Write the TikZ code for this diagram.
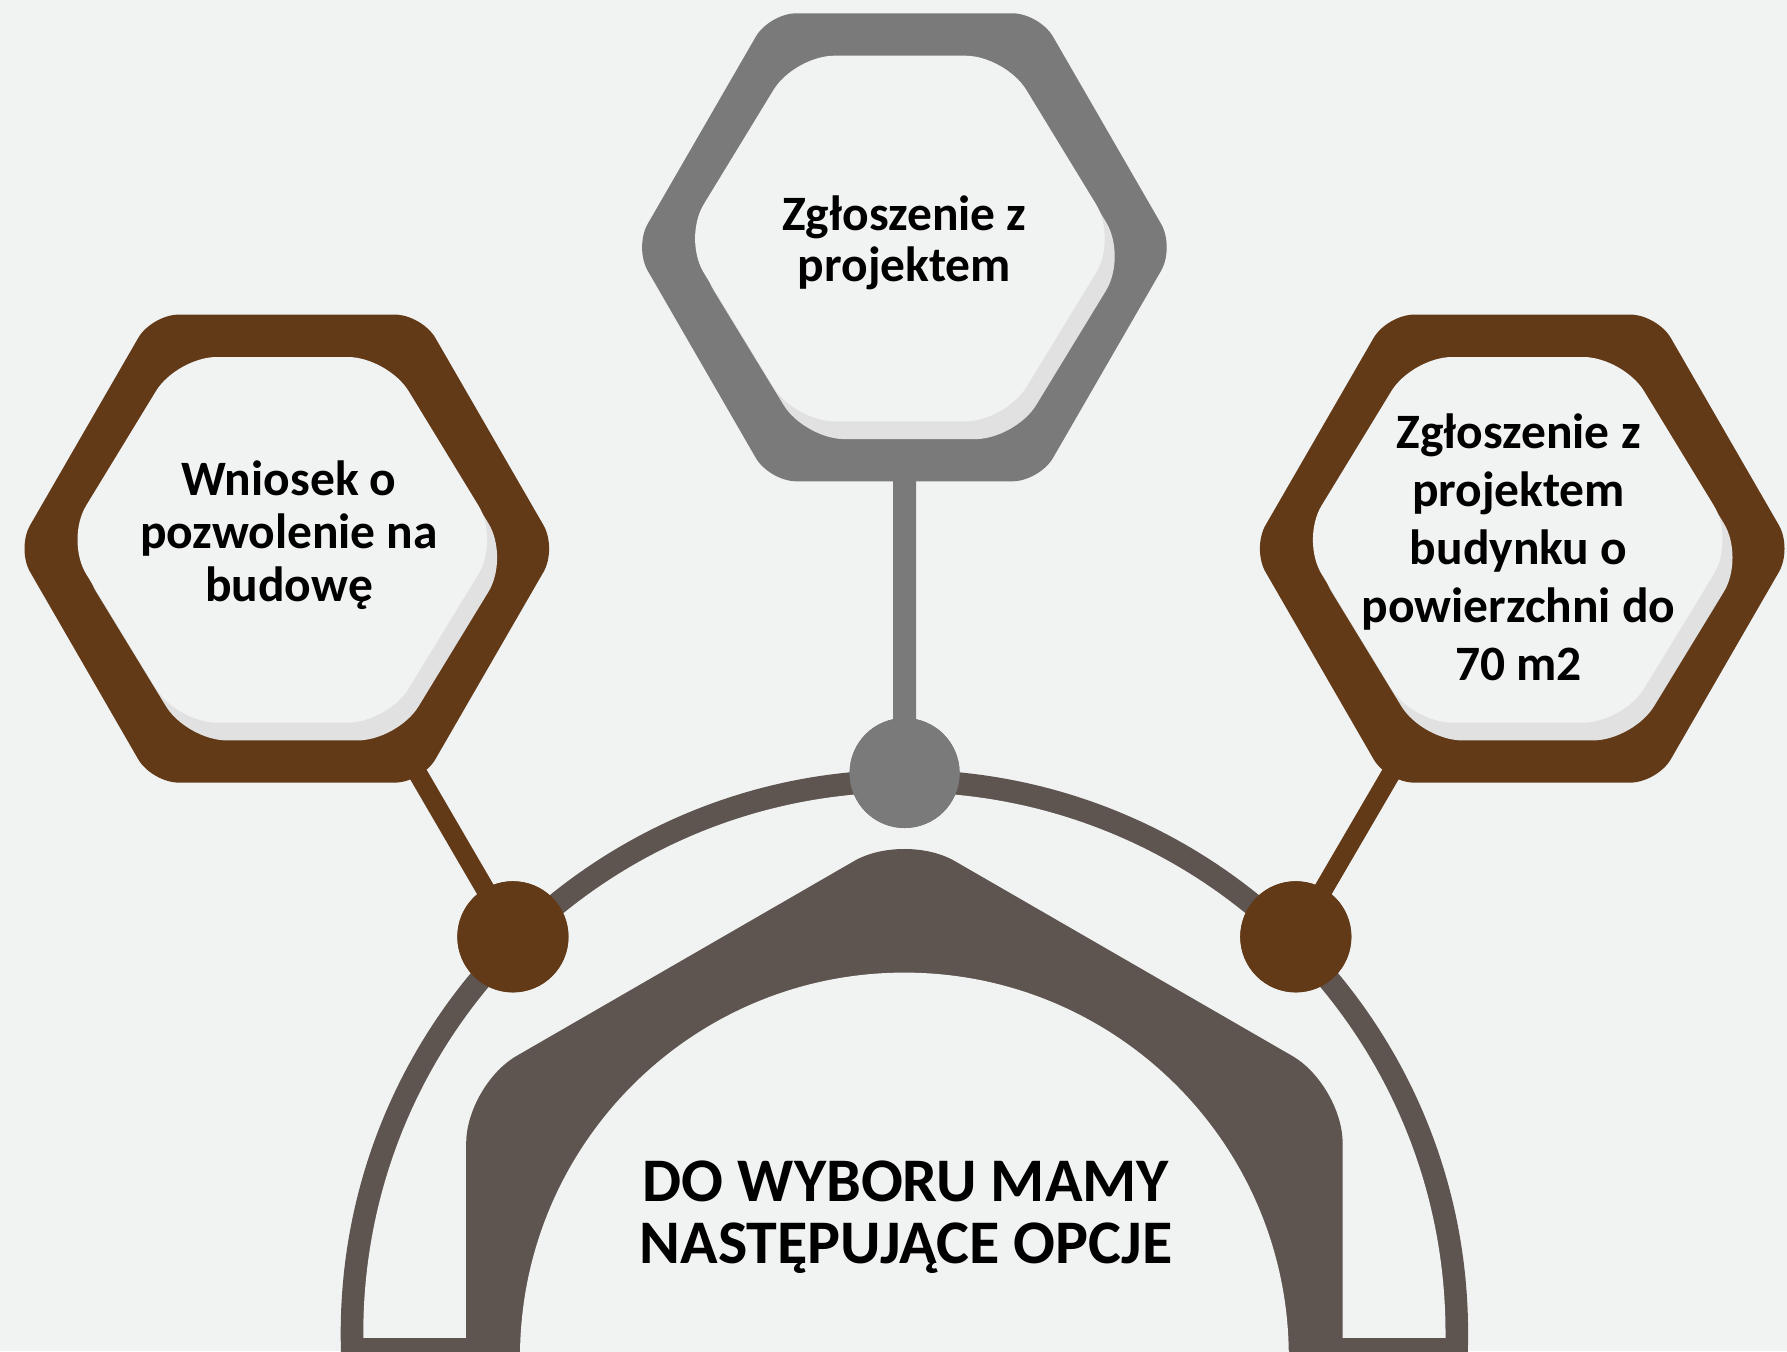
\documentclass[tikz,border=0pt]{standalone}
\usepackage{fontspec}
\setmainfont{Carlito}
\definecolor{bg}{RGB}{241,242,242}
\definecolor{hexgray}{RGB}{122,122,122}
\definecolor{hexbrown}{RGB}{98,58,23}
\definecolor{archdark}{RGB}{94,85,81}
\definecolor{shadowgray}{RGB}{225,225,225}
% flat-top hexagon: #1 options, #2 cx, #3 cy, #4 side half-width, #5 top half-width, #6 half-height
\newcommand\flathex[6]{%
  \fill[#1] (#2+#4,#3) -- (#2+#5,#3-#6) -- (#2-#5,#3-#6)
    -- (#2-#4,#3) -- (#2-#5,#3+#6) -- (#2+#5,#3+#6) -- cycle;}
% full hexagon badge: #1 ring colour, #2 cx, #3 cy
\newcommand\badge[3]{%
  \flathex{#1,rounded corners=27pt}{#2}{#3}{270.2}{135.1}{234}
  \flathex{shadowgray,rounded corners=40pt}{#2+5.5}{#3+9}{217}{105.5}{182.8}
  \flathex{bg,rounded corners=40pt}{#2-4.5}{#3-8.8}{217}{105.5}{182.8}}
\begin{document}
\begin{tikzpicture}[x=1pt,y=-1pt,
  txt/.style={align=center,inner sep=0pt,text=black},
  dot/.style={circle,inner sep=0pt,minimum size=#1},
  stem/.style={line width=23pt,draw=hexgray},
  brownlink/.style={line width=19pt,draw=hexbrown}]
\useasboundingbox (0,0) rectangle (1787,1351);
\clip (0,0) rectangle (1787,1351);
\fill[bg] (0,0) rectangle (1787,1351);
% outer ring
\fill[archdark] (904.4,1333.4) circle (563.7pt);
\begin{scope}
  \clip (0,0) rectangle (1787,1337.7);
  \fill[bg] (904.4,1333.4) circle (541.1pt);
\end{scope}
% arch (pointy hexagon)
\fill[archdark,rounded corners=58pt]
  (904.4,1844) -- (904.4-438.2,1591) -- (904.4-438.2,1085) -- (904.4,832)
  -- (904.4+438.2,1085) -- (904.4+438.2,1591) -- cycle;
\fill[bg] (904.4,1357) circle (384.4pt);
% anchors
\coordinate (hTop) at (904.4,247.3);
\coordinate (hLeft) at (286.8,548.6);
\coordinate (hRight) at (1522.2,548.6);
\node[dot=110pt,fill=hexgray] (cTop) at (904.6,773) {};
\node[dot=111pt,fill=hexbrown] (cLeft) at (512.9,936.8) {};
\node[dot=111pt,fill=hexbrown] (cRight) at (1295.8,936.8) {};
% connectors
\draw[stem] (hTop) -- (cTop.center);
\draw[brownlink] (hLeft) -- (cLeft.center);
\draw[brownlink] (hRight) -- (cRight.center);
% hexagons
\badge{hexgray}{904.4}{247.3}
\badge{hexbrown}{286.8}{548.6}
\badge{hexbrown}{1522.2}{548.6}
% circles on top
\fill[hexgray] (cTop) circle (55pt);
\fill[hexbrown] (cLeft) circle (55.6pt);
\fill[hexbrown] (cRight) circle (55.6pt);
% texts (base anchor = baseline of the last line)
\node[txt,anchor=base,font=\bfseries\fontsize{49.5}{51.7}\selectfont] (tTop) at (904.4,281.7)
  {Zgłoszenie z\\projektem};
\node[txt,anchor=base,font=\bfseries\fontsize{49.5}{53.3}\selectfont] (tLeft) at (289,601.7)
  {Wniosek o\\pozwolenie na\\budowę};
\node[txt,anchor=base,font=\bfseries\fontsize{49.5}{58}\selectfont] (tRight) at (1518.5,680)
  {Zgłoszenie z\\projektem\\budynku o\\powierzchni do\\70 m2};
\node[txt,anchor=base,font=\bfseries\fontsize{62}{62.6}\selectfont] (tMain) at (906,1263.6)
  {DO WYBORU MAMY\\NASTĘPUJĄCE OPCJE};
\end{tikzpicture}
\end{document}
